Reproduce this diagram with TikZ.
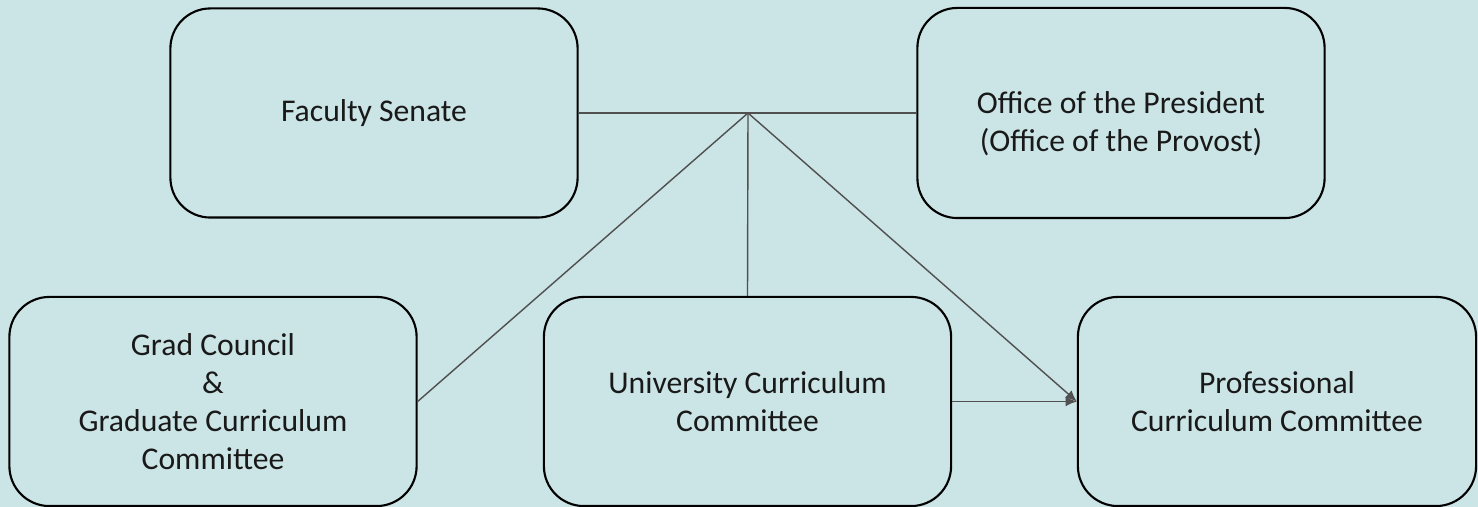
\documentclass[tikz,border=0pt]{standalone}
\usepackage{fontspec}
\setmainfont{Carlito}
\usetikzlibrary{arrows.meta}
\definecolor{bgteal}{RGB}{203,228,230}
\definecolor{linkgray}{RGB}{80,80,80}
\begin{document}
\begin{tikzpicture}
  [x=0.01cm,y=-0.01cm
  ,unit/.style={rectangle,rounded corners=0.4cm,draw=black,line width=0.6pt,
     minimum width=4.07cm,minimum height=2.09cm,inner sep=0pt,align=center,
     font=\fontsize{9}{10.8}\selectfont,text=black!90}
  ,link/.style={draw=linkgray,line width=0.4pt}
  ,tip/.style={-{Latex[length=3.2pt,width=2.8pt]}}]
\fill[bgteal] (0,0) rectangle (1478,507);
\useasboundingbox (0,0) rectangle (1478,507);
\node at (374,113) (senate) [unit] {Faculty Senate};
\node at (1121,113) (office) [unit,minimum height=2.1cm] {\rule{0pt}{0.44cm}Office of the President\\(Office of the Provost)};
\node at (213,401.5) (grad) [unit] {Grad Council\\\&\\Graduate Curriculum\\Committee};
\node at (747.5,401.5) (univ) [unit] {University Curriculum\\Committee};
\node at (1277,401.5) (prof) [unit,minimum width=3.98cm] {Professional\\Curriculum Committee};
\coordinate (hub) at (748,113);
\draw [link] (senate.east) -- (senate.east -| office.west);
\draw [link] (hub) -- (grad.east);
\draw [link] (hub) -- (univ.north);
\draw [link,tip] (hub) -- (prof.west);
\draw [link,tip] (univ.east) -- (prof.west);
\end{tikzpicture}
\end{document}
